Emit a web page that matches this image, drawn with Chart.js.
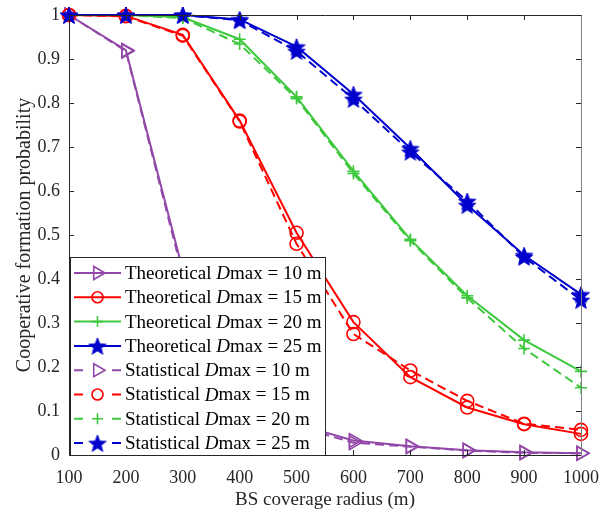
<!DOCTYPE html>
<html>
<head>
<meta charset="utf-8">
<script src="https://cdn.jsdelivr.net/npm/chart.js@4.4.0/dist/chart.umd.min.js"></script>
<style>
  html, body { margin: 0; padding: 0; background: #fff; }
</style>
</head>
<body>
<canvas id="chart" width="615" height="515"></canvas>
<script>
// BS coverage radius (m)
const radius = [100, 200, 300, 400, 500, 600, 700, 800, 900, 1000];

// cooperative formation probability, theoretical
const theo10 = [1, 0.92, 0.42, 0.16, 0.07, 0.033, 0.02, 0.011, 0.006, 0.004];
const theo15 = [1, 0.998, 0.955, 0.76, 0.505, 0.302, 0.177, 0.108, 0.07, 0.048];
const theo20 = [1, 1, 0.995, 0.945, 0.814, 0.645, 0.49, 0.362, 0.261, 0.19];
const theo25 = [1, 1, 1, 0.99, 0.928, 0.82, 0.697, 0.568, 0.454, 0.365];

// cooperative formation probability, statistical
const stat10 = [1, 0.918, 0.41, 0.155, 0.065, 0.028, 0.019, 0.01, 0.005, 0.004];
const stat15 = [1, 0.997, 0.953, 0.758, 0.48, 0.275, 0.192, 0.123, 0.071, 0.057];
const stat20 = [1, 1, 0.993, 0.934, 0.81, 0.64, 0.487, 0.357, 0.242, 0.153];
const stat25 = [1, 1, 1, 0.988, 0.918, 0.809, 0.689, 0.577, 0.45, 0.352];

const xTicks = [100, 200, 300, 400, 500, 600, 700, 800, 900, 1000];
const yTicks = [0, 0.1, 0.2, 0.3, 0.4, 0.5, 0.6, 0.7, 0.8, 0.9, 1];

const PURPLE = '#9148a8';
const RED = '#ff0000';
const GREEN = '#3ec83e';
const BLUE = '#0000cc';
const SERIF = '"Liberation Serif", "Times New Roman", serif';

// filled five-pointed star used as a point style
function makeStar(color, R) {
  const c = document.createElement('canvas');
  const s = Math.ceil(R * 2 + 2);
  c.width = s; c.height = s;
  const g = c.getContext('2d');
  const r = R * 0.42;
  g.beginPath();
  for (let i = 0; i < 10; i++) {
    const a = -Math.PI / 2 + i * Math.PI / 5;
    const rr = i % 2 === 0 ? R : r;
    const px = s / 2 + rr * Math.cos(a);
    const py = s / 2 + 1 + rr * Math.sin(a);
    if (i === 0) g.moveTo(px, py); else g.lineTo(px, py);
  }
  g.closePath();
  g.fillStyle = color;
  g.fill();
  g.strokeStyle = color;
  g.lineWidth = 1;
  g.stroke();
  return c;
}
const starImg = makeStar(BLUE, 9);

function pts(vals) {
  return radius.map((x, i) => ({ x: x, y: vals[i] }));
}

function series(label, vals, color, style, dashed, order) {
  const ds = {
    label: label,
    data: pts(vals),
    borderColor: color,
    backgroundColor: 'rgba(0,0,0,0)',
    borderWidth: 2,
    borderDash: dashed ? [9, 5] : [],
    pointBorderColor: color,
    pointBackgroundColor: 'rgba(0,0,0,0)',
    pointBorderWidth: 1.6,
    pointStyle: style,
    pointRadius: 6.5,
    pointRotation: 0,
    tension: 0,
    clip: false,
    order: order
  };
  if (style === 'triangle') { ds.pointRotation = 90; ds.pointRadius = 8; }
  if (style === 'cross') { ds.pointRadius = 6; ds.pointBorderWidth = 1.6; }
  if (style === 'star') { ds.pointStyle = starImg; }
  return ds;
}

const datasets = [
  series('Theoretical Dmax = 10 m', theo10, PURPLE, 'triangle', false, 8),
  series('Theoretical Dmax = 15 m', theo15, RED, 'circle', false, 7),
  series('Theoretical Dmax = 20 m', theo20, GREEN, 'cross', false, 6),
  series('Theoretical Dmax = 25 m', theo25, BLUE, 'star', false, 5),
  series('Statistical Dmax = 10 m', stat10, PURPLE, 'triangle', true, 4),
  series('Statistical Dmax = 15 m', stat15, RED, 'circle', true, 3),
  series('Statistical Dmax = 20 m', stat20, GREEN, 'cross', true, 2),
  series('Statistical Dmax = 25 m', stat25, BLUE, 'star', true, 1)
];

// axes box with inward ticks on all four sides
const boxPlugin = {
  id: 'box',
  afterDatasetsDraw(chart) {
    const { ctx, chartArea: a, scales } = chart;
    ctx.save();
    ctx.lineWidth = 1;
    ctx.strokeStyle = '#262626';
    const tl = 5;
    ctx.beginPath();
    xTicks.forEach(v => {
      const px = Math.round(scales.x.getPixelForValue(v)) + 0.5;
      ctx.moveTo(px, a.bottom); ctx.lineTo(px, a.bottom - tl);
      ctx.moveTo(px, a.top); ctx.lineTo(px, a.top + tl);
    });
    yTicks.forEach(v => {
      const py = Math.round(scales.y.getPixelForValue(v)) + 0.5;
      ctx.moveTo(a.left, py); ctx.lineTo(a.left + tl, py);
      ctx.moveTo(a.right, py); ctx.lineTo(a.right - tl, py);
    });
    ctx.stroke();
    ctx.beginPath();
    ctx.moveTo(a.left + 0.5, a.bottom + 0.5);
    ctx.lineTo(a.left + 0.5, a.top + 0.5);
    ctx.lineTo(a.right + 0.5, a.top + 0.5);
    ctx.moveTo(a.left + 0.5, a.bottom + 0.5);
    ctx.lineTo(a.right + 0.5, a.bottom + 0.5);
    ctx.stroke();
    ctx.strokeStyle = '#7f7f7f';
    ctx.beginPath();
    ctx.moveTo(a.right + 0.5, a.top + 0.5);
    ctx.lineTo(a.right + 0.5, a.bottom + 0.5);
    ctx.stroke();
    ctx.restore();
  }
};

// legend box in the lower-left corner, with italic D in each entry
const legendPlugin = {
  id: 'boxLegend',
  afterDraw(chart) {
    const { ctx, chartArea: a } = chart;
    const left = a.left + 1, right = 325, bottom = a.bottom, top = 257;
    const rowH = 24.3;
    ctx.save();
    ctx.fillStyle = '#fff';
    ctx.fillRect(left, top, right - left, bottom - top);
    ctx.strokeStyle = '#262626';
    ctx.lineWidth = 1;
    ctx.strokeRect(left + 0.5, top + 0.5, right - left, bottom - top);
    chart.data.datasets.forEach((ds, i) => {
      const cy = top + 16 + rowH * i;
      const x0 = left + 4, x1 = left + 51, xm = (x0 + x1) / 2;
      ctx.strokeStyle = ds.borderColor;
      ctx.lineWidth = 2;
      ctx.setLineDash([]);
      ctx.beginPath();
      if (ds.borderDash.length) {
        ctx.moveTo(x0, cy); ctx.lineTo(x0 + 9, cy);
        ctx.moveTo(x1 - 9, cy); ctx.lineTo(x1, cy);
      } else {
        ctx.moveTo(x0, cy); ctx.lineTo(x1, cy);
      }
      ctx.stroke();
      if (ds.pointStyle === starImg) {
        ctx.drawImage(starImg, xm - starImg.width / 2, cy - starImg.height / 2);
      } else {
        ctx.lineWidth = ds.pointBorderWidth;
        ctx.fillStyle = 'rgba(0,0,0,0)';
        Chart.helpers.drawPoint(ctx, {
          pointStyle: ds.pointStyle,
          rotation: ds.pointRotation,
          radius: ds.pointStyle === 'triangle' ? 7.5 : 5.5,
          borderWidth: ds.pointBorderWidth
        }, xm, cy);
      }
      const parts = ds.label.split('Dmax');
      let tx = x1 + 4;
      ctx.fillStyle = '#000';
      ctx.textBaseline = 'middle';
      ctx.font = '19px ' + SERIF;
      ctx.fillText(parts[0], tx, cy + 1);
      tx += ctx.measureText(parts[0]).width;
      ctx.font = 'italic 19px ' + SERIF;
      ctx.fillText('D', tx, cy + 1);
      tx += ctx.measureText('D').width;
      ctx.font = '19px ' + SERIF;
      ctx.fillText('max' + parts[1], tx, cy + 1);
    });
    ctx.restore();
  }
};

new Chart(document.getElementById('chart'), {
  type: 'line',
  data: { datasets: datasets },
  plugins: [boxPlugin, legendPlugin],
  options: {
    responsive: false,
    animation: false,
    layout: { padding: { left: 0, right: 34, top: 15, bottom: 0 } },
    plugins: { legend: { display: false }, tooltip: { enabled: false } },
    scales: {
      x: {
        type: 'linear',
        min: 100, max: 1000,
        afterFit(scale) { scale.height = 60; },
        afterBuildTicks(scale) { scale.ticks = xTicks.map(v => ({ value: v })); },
        grid: { display: false },
        border: { display: false },
        ticks: { color: '#262626', font: { family: SERIF, size: 18 }, padding: 4,
                 maxRotation: 0, autoSkip: false, callback: v => String(v) },
        title: { display: true, text: 'BS coverage radius (m)', color: '#262626',
                 font: { family: SERIF, size: 19 }, padding: { top: 4 } }
      },
      y: {
        type: 'linear',
        min: 0, max: 1,
        afterFit(scale) { scale.width = 69; },
        afterBuildTicks(scale) { scale.ticks = yTicks.map(v => ({ value: v })); },
        grid: { display: false },
        border: { display: false },
        ticks: { color: '#262626', font: { family: SERIF, size: 18 }, padding: 1,
                 autoSkip: false, callback: v => String(+v.toFixed(1)) },
        title: { display: true, text: 'Cooperative formation probability', color: '#262626',
                 font: { family: SERIF, size: 20 }, padding: { top: 13, bottom: 0 } }
      }
    }
  }
});
</script>
</body>
</html>
